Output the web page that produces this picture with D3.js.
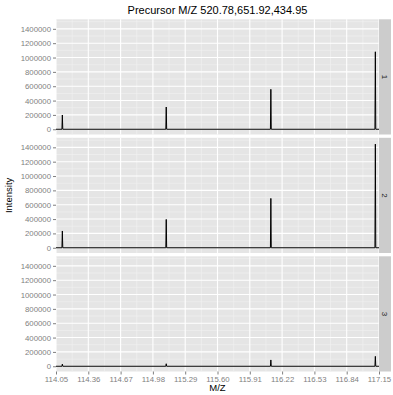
<!DOCTYPE html>
<html><head><meta charset="utf-8">
<script src="https://cdn.jsdelivr.net/npm/d3@7"></script>
<style>body{margin:0;background:#fff}svg{display:block;font-family:"Liberation Sans",Arial,Helvetica,sans-serif}</style>
</head><body>
<script>
const title = "Precursor M/Z 520.78,651.92,434.95";
const panels = ["1", "2", "3"];
const mz = [114.05, 114.107, 114.111, 114.115, 115.104, 115.108, 115.112, 116.108, 116.112, 116.116, 117.111, 117.115, 117.119, 117.15];
const intensity1 = [0, 0, 199000, 0, 0, 310000, 0, 0, 557000, 0, 0, 1080000, 0, 0];
const intensity2 = [0, 0, 234000, 0, 0, 395000, 0, 0, 688000, 0, 0, 1445000, 0, 0];
const intensity3 = [0, 0, 30000, 0, 0, 35000, 0, 0, 88000, 0, 0, 138000, 0, 0];
const xTicks = [114.05, 114.36, 114.67, 114.98, 115.29, 115.60, 115.91, 116.22, 116.53, 116.84, 117.15];
const yTicks = [0, 200000, 400000, 600000, 800000, 1000000, 1200000, 1400000];
const series = [intensity1, intensity2, intensity3];

const W = 393, H = 395;
const left = 56, right = 379, stripW = 12;
const top0 = 19.3, ph = 115.2, gap = 3.3;

const svg = d3.select("body").append("svg").attr("width", W).attr("height", H);
const x = d3.scaleLinear().domain([114.05, 117.15]).range([left, right]);
const ymax = 1460000, pad = ymax * 0.05;

const xMinor = [];
for (let i = 0; i < xTicks.length - 1; i++) xMinor.push((xTicks[i] + xTicks[i + 1]) / 2);
const yMinor = [];
for (let i = 0; i < yTicks.length; i++) yMinor.push(yTicks[i] + 100000);

panels.forEach((p, i) => {
  const t = top0 + i * (ph + gap);
  const y = d3.scaleLinear().domain([-pad, ymax + pad]).range([t + ph, t]);
  const g = svg.append("g");
  g.append("rect").attr("x", left).attr("y", t).attr("width", right - left).attr("height", ph).attr("fill", "#e5e5e5");
  g.selectAll(".xm").data(xMinor).join("line").attr("x1", d => x(d)).attr("x2", d => x(d)).attr("y1", t).attr("y2", t + ph).attr("stroke", "#f2f2f2").attr("stroke-width", 0.6);
  g.selectAll(".ym").data(yMinor.filter(d => d < ymax + pad)).join("line").attr("y1", d => y(d)).attr("y2", d => y(d)).attr("x1", left).attr("x2", right).attr("stroke", "#f2f2f2").attr("stroke-width", 0.6);
  g.selectAll(".xM").data(xTicks).join("line").attr("x1", d => x(d)).attr("x2", d => x(d)).attr("y1", t).attr("y2", t + ph).attr("stroke", "#fff").attr("stroke-width", 1.1);
  g.selectAll(".yM").data(yTicks).join("line").attr("y1", d => y(d)).attr("y2", d => y(d)).attr("x1", left).attr("x2", right).attr("stroke", "#fff").attr("stroke-width", 1.1);
  const data = mz.map((m, k) => [m, series[i][k]]);
  g.append("path").datum(data).attr("d", d3.line().x(d => x(d[0])).y(d => y(d[1])))
    .attr("fill", "none").attr("stroke", "#000").attr("stroke-width", 1);
  const ay = d3.axisLeft(y).tickValues(yTicks).tickSize(3).tickPadding(2).tickFormat(d3.format("d"));
  const ga = svg.append("g").attr("transform", `translate(${left},0)`).call(ay);
  ga.select(".domain").remove();
  ga.selectAll("line").attr("stroke", "#7f7f7f");
  ga.selectAll("text").attr("fill", "#7f7f7f").attr("font-size", 7.8).attr("font-family", "Liberation Sans, Arial, sans-serif");
  svg.append("rect").attr("x", right).attr("y", t).attr("width", stripW).attr("height", ph).attr("fill", "#cccccc");
  svg.append("text").attr("transform", `translate(${right + stripW / 2},${t + ph / 2}) rotate(90)`)
    .attr("text-anchor", "middle").attr("dy", "0.35em").attr("font-size", 8).attr("fill", "#1a1a1a").text(p);
  if (i === panels.length - 1) {
    const ax = d3.axisBottom(x).tickValues(xTicks).tickSize(3).tickPadding(1.5).tickFormat(d3.format(".2f"));
    const gx = svg.append("g").attr("transform", `translate(0,${t + ph})`).call(ax);
    gx.select(".domain").remove();
    gx.selectAll("line").attr("stroke", "#7f7f7f");
    gx.selectAll("text").attr("fill", "#7f7f7f").attr("font-size", 7.8).attr("font-family", "Liberation Sans, Arial, sans-serif");
  }
});

svg.append("text").attr("x", (left + right) / 2).attr("y", 14).attr("text-anchor", "middle").attr("font-size", 11).attr("fill", "#000").text(title);
svg.append("text").attr("x", (left + right) / 2).attr("y", 391).attr("text-anchor", "middle").attr("font-size", 9.5).attr("fill", "#000").text("M/Z");
svg.append("text").attr("transform", `translate(12,${top0 + (3 * ph + 2 * gap) / 2}) rotate(-90)`).attr("text-anchor", "middle").attr("font-size", 9.5).attr("fill", "#000").text("Intensity");
</script>
</body></html>
